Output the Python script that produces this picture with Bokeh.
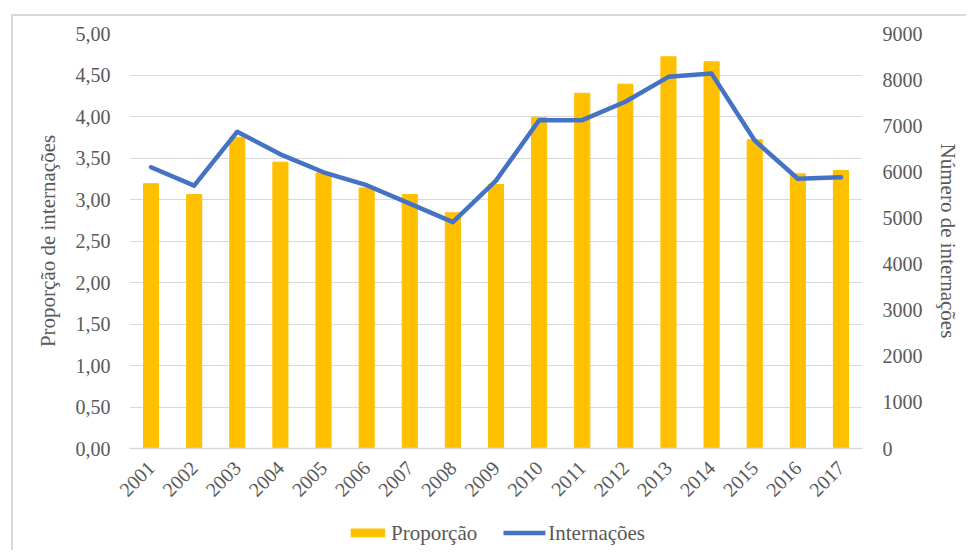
from math import pi
from bokeh.plotting import figure
from bokeh.layouts import column
from bokeh.models import (FactorRange, Range1d, LinearAxis, FixedTicker, Legend,
                          LegendItem, InlineStyleSheet)
from bokeh.embed import file_html
from bokeh.resources import INLINE

years = ["2001", "2002", "2003", "2004", "2005", "2006", "2007", "2008", "2009",
         "2010", "2011", "2012", "2013", "2014", "2015", "2016", "2017"]
proporcao = [3.19, 3.06, 3.75, 3.45, 3.32, 3.14, 3.06, 2.84, 3.18,
             3.99, 4.28, 4.39, 4.72, 4.66, 3.72, 3.31, 3.35]
internacoes = [6100, 5700, 6870, 6380, 5990, 5710, 5310, 4910, 5810,
               7120, 7120, 7520, 8060, 8130, 6680, 5850, 5880]

left_ticks = [0, 0.5, 1, 1.5, 2, 2.5, 3, 3.5, 4, 4.5, 5]
left_tick_labels = ["0,00", "0,50", "1,00", "1,50", "2,00", "2,50", "3,00",
                    "3,50", "4,00", "4,50", "5,00"]
right_ticks = [0, 1000, 2000, 3000, 4000, 5000, 6000, 7000, 8000, 9000]

FONT = "Liberation Serif"
TXT = "#595959"
GRID = "#d9d9d9"
BAR = "#FFC000"
LINE = "#4472C4"

p = figure(width=966, height=515, x_range=FactorRange(*years),
           y_range=Range1d(0, 5), output_backend="svg", toolbar_location=None,
           min_border_left=129, min_border_right=104, min_border_top=33,
           min_border_bottom=67)
p.extra_y_ranges = {"right": Range1d(0, 9000)}
p.outline_line_color = None
p.background_fill_color = None
p.border_fill_color = None

bars = p.vbar(x=years, top=proporcao, width=0.35, color=BAR)
line = p.line(x=years, y=internacoes, y_range_name="right", line_color=LINE,
              line_width=4.5, line_join="round", line_cap="round")

# left axis
ya = p.yaxis[0]
ya.ticker = FixedTicker(ticks=left_ticks)
ya.major_label_overrides = {t: s for t, s in zip(left_ticks, left_tick_labels)}
ya.axis_label = "Proporção de internações"

# right axis
ra = LinearAxis(y_range_name="right", ticker=FixedTicker(ticks=right_ticks),
                axis_label="Número de internações")
p.add_layout(ra, "right")

for ax in (ya, ra):
    ax.axis_line_color = None
    ax.major_tick_line_color = None
    ax.minor_tick_line_color = None
    ax.major_tick_out = 0
    ax.major_label_text_font = FONT
    ax.major_label_text_font_size = "20px"
    ax.major_label_text_color = TXT
    ax.axis_label_text_font = FONT
    ax.axis_label_text_font_size = "21px"
    ax.axis_label_text_font_style = "normal"
    ax.axis_label_text_color = TXT
ya.major_label_standoff = 19
ra.major_label_standoff = 20
ya.axis_label_standoff = 13
ra.axis_label_standoff = 10

xa = p.xaxis[0]
xa.axis_line_color = GRID
xa.axis_line_width = 1.5
xa.major_tick_line_color = None
xa.minor_tick_line_color = None
xa.major_tick_out = 0
xa.major_label_orientation = pi / 4
xa.major_label_text_font = FONT
xa.major_label_text_font_size = "20px"
xa.major_label_text_color = TXT
xa.major_label_standoff = 16

p.xgrid.grid_line_color = None
p.ygrid.grid_line_color = GRID
p.ygrid.grid_line_width = 1

# legend strip below the chart: same series, renderers hidden so that only
# the legend shows
pl = figure(width=966, height=35, x_range=FactorRange(*years),
            y_range=Range1d(0, 5),
            output_backend="svg", toolbar_location=None,
            min_border_left=36, min_border_right=0, min_border_top=0,
            min_border_bottom=0)
pl.extra_y_ranges = {"right": Range1d(0, 9000)}
pl.axis.visible = False
pl.grid.visible = False
pl.outline_line_color = None
pl.background_fill_color = None
pl.border_fill_color = None
lb = pl.vbar(x=years, top=proporcao, width=0.35, color=BAR)
ll = pl.line(x=years, y=internacoes, y_range_name="right", line_color=LINE,
             line_width=4.5, line_cap="round")
lb.visible = False
ll.visible = False

legend = Legend(items=[LegendItem(label="Proporção", renderers=[lb]),
                       LegendItem(label="Internações", renderers=[ll])],
                orientation="horizontal", location="center",
                label_text_font=FONT, label_text_font_size="21px",
                label_text_color=TXT, glyph_width=42, glyph_height=10,
                label_standoff=3, spacing=26, border_line_color=None,
                background_fill_alpha=0, padding=0, margin=0,
                inactive_fill_alpha=0)
pl.add_layout(legend, "center")

lay = column(p, pl, spacing=0)
lay.stylesheets = [InlineStyleSheet(css="""
:host { position: relative; }
:host::after { content: ''; position: absolute; left: 11px; top: 14px;
  right: 0; bottom: 0; border-left: 2px solid #d9d9d9;
  border-top: 2px solid #d9d9d9; pointer-events: none; }
""")]

open("out.html", "w").write(file_html(lay, INLINE))
